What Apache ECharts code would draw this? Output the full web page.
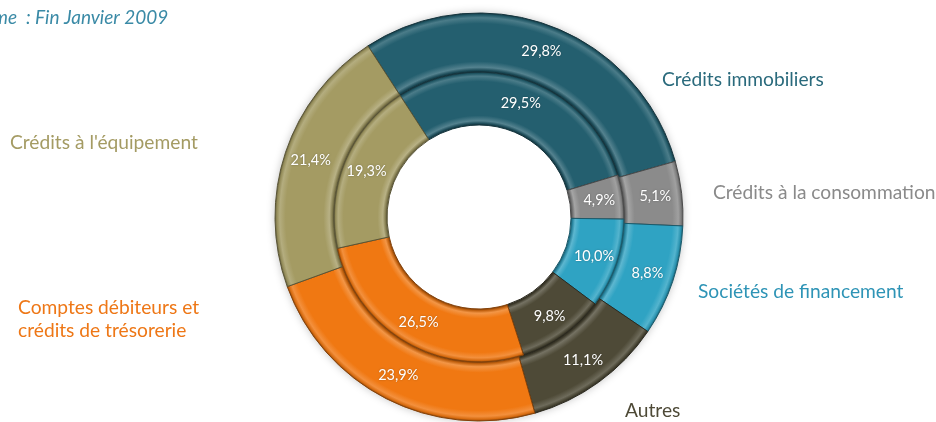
<!DOCTYPE html>
<html>
<head>
<meta charset="utf-8">
<script src="https://cdn.jsdelivr.net/npm/echarts@6/dist/echarts.min.js"></script>
<style>
  html, body { margin: 0; padding: 0; background: #fff; }
  #chart { width: 936px; height: 422px; }
</style>
</head>
<body>
<div id="chart"></div>
<script>
// Répartition des crédits par catégorie (%)
const categories = [
  'Crédits immobiliers',
  'Crédits à la consommation',
  'Sociétés de financement',
  'Autres',
  'Comptes débiteurs et\ncrédits de trésorerie',
  "Crédits à l'équipement"
];
const outerValues = [29.8, 5.1, 8.8, 11.1, 23.9, 21.4];
const innerValues = [29.5, 4.9, 10.0, 9.8, 26.5, 19.3];
const subtitle = 'me  : Fin Janvier 2009';

const baseColors = ['#245f6f', '#8b8b8b', '#2fa3c3', '#4e4a37', '#f07812', '#a49b63'];
const labelColors = ['#2a6a7c', '#8a8a8a', '#2e94b6', '#4e4a37', '#ee7716', '#a49b63'];

const CX = 479, CY = 217, R_OUT = 204, R_MID = 145, R_IN = 92;

function shade(hex, amt) {
  const n = parseInt(hex.slice(1), 16);
  let r = (n >> 16) & 255, g = (n >> 8) & 255, b = n & 255;
  const f = v => Math.max(0, Math.min(255, Math.round(amt >= 0 ? v + (255 - v) * amt : v * (1 + amt))));
  return 'rgb(' + f(r) + ',' + f(g) + ',' + f(b) + ')';
}

// Bevel look: light ridge near each ring edge, dark seam at the edges
function bevel(hex, r0, r1) {
  const a = r0 / R_OUT, b = r1 / R_OUT, w = b - a;
  return {
    type: 'radial', x: CX, y: CY, r: R_OUT, global: true,
    colorStops: [
      { offset: a, color: shade(hex, -0.45) },
      { offset: a + w * 0.03, color: shade(hex, -0.2) },
      { offset: a + w * 0.08, color: shade(hex, 0.22) },
      { offset: a + w * 0.18, color: hex },
      { offset: a + w * 0.82, color: hex },
      { offset: a + w * 0.92, color: shade(hex, 0.18) },
      { offset: a + w * 0.97, color: shade(hex, -0.1) },
      { offset: b, color: shade(hex, -0.4) }
    ]
  };
}

const fmt = p => p.value.toFixed(1).replace('.', ',') + '%';

function ring(values, r0, r1) {
  return {
    type: 'pie',
    center: [CX, CY],
    radius: [r0, r1],
    startAngle: 123,
    clockwise: true,
    silent: true,
    animation: false,
    label: {
      show: true, position: 'inside', formatter: fmt,
      color: '#fff', fontSize: 14.5, fontFamily: 'Lato, "Open Sans", sans-serif',
      textShadowColor: 'rgba(0,0,0,0.3)', textShadowBlur: 2
    },
    labelLine: { show: false },
    data: values.map((v, i) => ({
      value: v,
      name: categories[i],
      itemStyle: {
        color: bevel(baseColors[i], r0, r1),
        borderColor: shade(baseColors[i], -0.45),
        borderWidth: 1
      }
    }))
  };
}

// Positions of the category captions around the rings
const captionPos = [
  { left: 662, top: 68.5 },
  { left: 713, top: 181.5 },
  { left: 698, top: 280.5 },
  { left: 625, top: 399.5 },
  { left: 18, top: 296.5 },
  { left: 10, top: 131.5 }
];

const captions = categories.map((c, i) => ({
  type: 'text',
  left: captionPos[i].left,
  top: captionPos[i].top,
  silent: true,
  style: {
    text: c,
    fill: labelColors[i],
    font: '19.2px Lato, "Open Sans", sans-serif',
    lineHeight: 23
  }
}));

const chart = echarts.init(document.getElementById('chart'), null, { renderer: 'canvas' });
chart.setOption({
  backgroundColor: '#ffffff',
  animation: false,
  graphic: [
    {
      type: 'text', left: -7, top: 8, silent: true,
      style: { text: subtitle, fill: '#3a8aa6', font: 'italic 19px Lato, "Open Sans", sans-serif' }
    },
    {
      type: 'circle', silent: true, z: -1,
      shape: { cx: CX, cy: CY, r: R_OUT },
      style: { fill: '#fff', shadowBlur: 8, shadowColor: 'rgba(0,0,0,0.25)' }
    }
  ].concat(captions),
  series: [ring(outerValues, R_MID, R_OUT), ring(innerValues, R_IN, R_MID)]
});
</script>
</body>
</html>
